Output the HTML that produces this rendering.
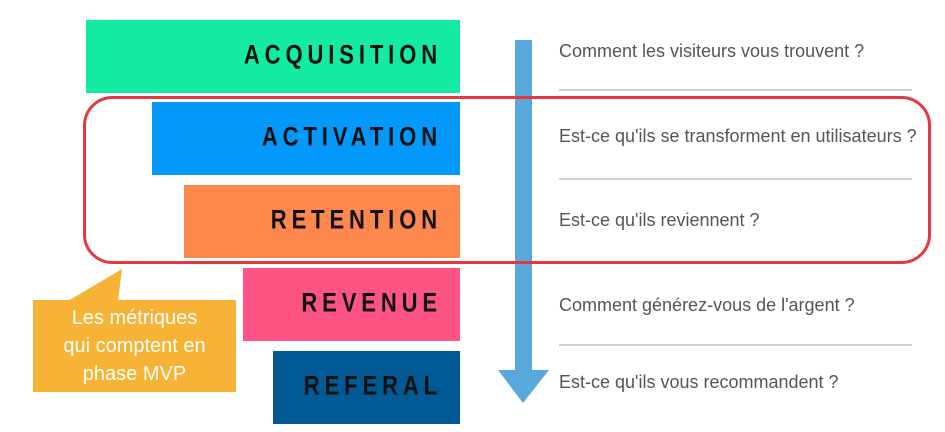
<!DOCTYPE html>
<html><head><meta charset="utf-8"><style>
body{margin:0;width:945px;height:432px;background:#fff;position:relative;overflow:hidden;font-family:"Liberation Sans",sans-serif}
.bar{position:absolute;right:485px;height:73px}
.bar span{position:absolute;right:18px;top:50%;transform:translateY(-58%) scaleY(1.2);font-family:"Liberation Sans Narrow","Liberation Sans",sans-serif;font-weight:bold;font-size:22px;letter-spacing:4.9px;color:#111}
.q{position:absolute;left:559px;font-size:18px;color:#555;white-space:nowrap}
.sep{position:absolute;left:559px;width:353px;height:2px;background:#d0d0d0}
</style></head><body>
<div class="bar" style="left:86px;top:20px;background:#15eaa3"><span>ACQUISITION</span></div>
<div class="bar" style="left:152px;top:102px;background:#0399fa"><span>ACTIVATION</span></div>
<div class="bar" style="left:184px;top:185px;background:#fc884d"><span>RETENTION</span></div>
<div class="bar" style="left:243px;top:268px;background:#fd5485"><span>REVENUE</span></div>
<div class="bar" style="left:273px;top:351px;background:#025a94"><span>REFERAL</span></div>
<svg width="945" height="432" style="position:absolute;left:0;top:0">
<rect x="515" y="40" width="17" height="332" fill="#58a8dc"/>
<polygon points="498,370 549,370 523,403" fill="#58a8dc"/>
<rect x="84.5" y="97.5" width="845" height="165" rx="28" fill="none" stroke="#e5373f" stroke-width="3"/>
<polygon points="68,301 118,301 122,269" fill="#f7b335"/>
<rect x="33" y="300" width="203" height="92" fill="#f7b335"/>
</svg>
<div style="position:absolute;left:33px;top:304px;width:203px;text-align:center;color:#fff;font-size:20px;line-height:28px">Les métriques<br>qui comptent en<br>phase MVP</div>
<div class="q" style="top:41px">Comment les visiteurs vous trouvent ?</div>
<div class="sep" style="top:89px"></div>
<div class="q" style="top:126px">Est-ce qu'ils se transforment en utilisateurs ?</div>
<div class="sep" style="top:178px"></div>
<div class="q" style="top:210px">Est-ce qu'ils reviennent ?</div>
<div class="q" style="top:295px">Comment générez-vous de l'argent ?</div>
<div class="sep" style="top:344px"></div>
<div class="q" style="top:372px">Est-ce qu'ils vous recommandent ?</div>
</body></html>
